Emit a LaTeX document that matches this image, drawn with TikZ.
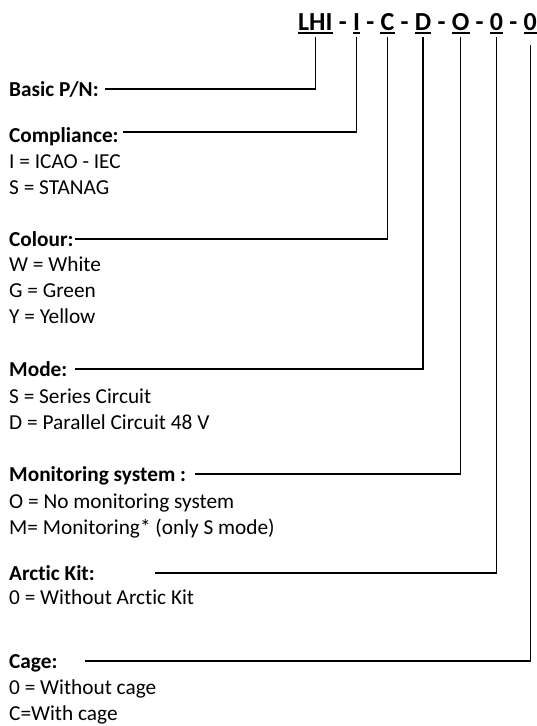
\documentclass[tikz,border=0pt]{standalone}
\usepackage{fontspec}
\setmainfont{Carlito}[Ligatures=NoCommon]
\usetikzlibrary{positioning}
\tikzset{code/.style={font=\fontsize{26}{30}\selectfont\bfseries,inner sep=0pt,text depth=2.5pt},
  sep/.style={font=\fontsize{26}{30}\selectfont\bfseries,inner ysep=0pt,inner xsep=5.9pt},
  uline/.style={line width=2pt},
  hdr/.style={font=\fontsize{21.3}{25}\selectfont\bfseries,inner sep=0pt,align=flush left,
    text height=16pt,text depth=2pt,anchor=base west},
  opts/.style={font=\fontsize{21.3}{25.8}\selectfont,inner sep=0pt,align=left,anchor=base west},
  link/.style={line width=1.4pt,shorten >=4.5pt}}

\begin{document}
\begin{tikzpicture}[x=1pt,y=-1pt]
\useasboundingbox (0,0) rectangle (537,726);
% part number code
\node[code,anchor=base west] (pn) at (298,30) {LHI};
\node[sep,base right=0pt of pn] (d1) {-};
\node[code,base right=0pt of d1] (cmp) {I};
\node[sep,base right=0pt of cmp] (d2) {-};
\node[code,base right=0pt of d2] (clr) {C};
\node[sep,base right=0pt of clr] (d3) {-};
\node[code,base right=0pt of d3] (mod) {D};
\node[sep,base right=0pt of mod] (d4) {-};
\node[code,base right=0pt of d4] (mon) {O};
\node[sep,base right=0pt of mon] (d5) {-};
\node[code,base right=0pt of d5] (ark) {0};
\node[sep,base right=0pt of ark] (d6) {-};
\node[code,base right=0pt of d6] (cge) {0};
\foreach \c in {pn,cmp,clr,mod,mon,ark,cge}
  \draw[uline] (\c.south west)--(\c.south east);
% fields (text width = where the leader line starts)
\node[hdr,text width=96pt] (basic) at (9,96) {Basic P/N:};
\node[hdr,text width=114pt,text height=22pt] (compliance) at (9,142) {Compliance:};
\node[opts] (complopt) at (9,194) {I = ICAO - IEC\\S = STANAG};
\node[hdr,text width=66pt] (colour) at (9,246) {Colour:};
\node[opts] (colouropt) at (9,323.5) {W = White\\G = Green\\Y = Yellow};
\node[hdr,text width=66pt] (mode) at (9,376) {Mode:};
\node[opts] (modeopt) at (9,429) {S = Series Circuit\\D = Parallel Circuit 48 V};
\node[hdr,text width=186pt] (monitoring) at (9,481) {Monitoring system :};
\node[opts] (monitopt) at (9,534) {O = No monitoring system\\M= Monitoring* (only S mode)};
\node[hdr,text width=146pt] (arctic) at (9,580) {Arctic Kit:};
\node[opts] (arcticopt) at (9,604) {0 = Without Arctic Kit};
\node[hdr,text width=76pt] (cage) at (9,668) {Cage:};
\node[opts] (cageopt) at (9,720) {0 = Without cage\\C=With cage};
% connectors
\draw[link] (basic.east) -| (pn.south);
\draw[link] (compliance.east) -| (cmp.south);
\draw[link] (colour.east) -| (clr.south);
\draw[link] (mode.east) -| (mod.south);
\draw[link] (monitoring.east) -| (mon.south);
\draw[link] (arctic.east) -| (ark.south);
\draw[link,shorten >=12.5pt] (cage.east) -| (cge.south);
\end{tikzpicture}
\end{document}
